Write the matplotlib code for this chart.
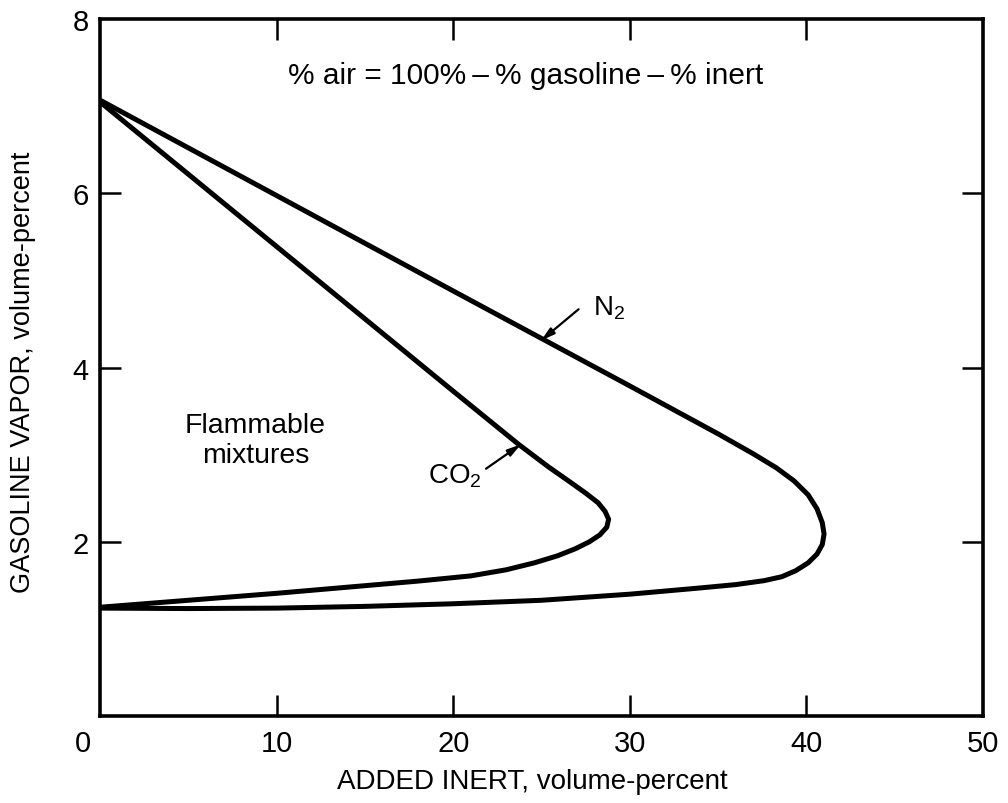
import matplotlib
matplotlib.use("Agg")
import matplotlib.pyplot as plt
from matplotlib.transforms import ScaledTranslation

plt.rcParams['font.family'] = ['Liberation Sans', 'DejaVu Sans']
plt.rcParams['mathtext.fontset'] = 'custom'
plt.rcParams['mathtext.rm'] = 'Liberation Sans'
plt.rcParams['mathtext.it'] = 'Liberation Sans'

# ---- data ----
n2_x = [0, 20, 30, 35, 37, 38.3, 39.3, 40.1, 40.6, 40.9, 41.0, 40.9, 40.6, 40.1, 39.4, 38.6,
        37.6, 36, 33.9, 30, 25, 20, 15, 10, 5, 0]
n2_y = [7.07, 4.88, 3.79, 3.24, 3.01, 2.85, 2.70, 2.54, 2.38, 2.22, 2.09, 1.97, 1.86, 1.76, 1.67, 1.60,
        1.555, 1.51, 1.47, 1.40, 1.33, 1.29, 1.26, 1.24, 1.235, 1.24]

co2_x = [0, 20, 23.7, 25.4, 26.6, 27.5, 28.2, 28.6, 28.8, 28.7, 28.3, 27.7, 26.9, 25.9, 24.6,
         23, 21, 18, 14, 10, 5, 0]
co2_y = [7.05, 3.73, 3.12, 2.86, 2.69, 2.56, 2.45, 2.35, 2.26, 2.17, 2.08, 2.00, 1.92, 1.84, 1.76,
         1.68, 1.61, 1.55, 1.48, 1.41, 1.33, 1.25]

x_ticks = [0, 10, 20, 30, 40, 50]
x_tick_labels = ['0', '10', '20', '30', '40', '50']
y_ticks = [2, 4, 6, 8]
y_tick_labels = ['2', '4', '6', '8']

fig = plt.figure(figsize=(10.08, 8.04), dpi=100)
ax = fig.add_axes([0.0992, 0.108, 0.876, 0.867])

lw = 3.6
ax.plot(n2_x, n2_y, color='black', lw=lw, solid_joinstyle='round', solid_capstyle='round')
ax.plot(co2_x, co2_y, color='black', lw=lw, solid_joinstyle='round', solid_capstyle='round')

ax.set_xlim(0, 50)
ax.set_ylim(0, 8)

ax.set_xticks(x_ticks)
ax.set_xticklabels(x_tick_labels)
ax.set_yticks(y_ticks)
ax.set_yticklabels(y_tick_labels)

ax.tick_params(axis='both', direction='in', length=15, width=1.8, labelsize=21,
               top=True, right=True, pad=8)
ax.tick_params(axis='x', pad=9)
for t in ax.xaxis.get_major_ticks():
    if t.get_loc() in (0, 50):
        t.tick1line.set_visible(False)
        t.tick2line.set_visible(False)
for t in ax.yaxis.get_major_ticks():
    if t.get_loc() in (0, 8):
        t.tick1line.set_visible(False)
        t.tick2line.set_visible(False)

lbl0 = ax.get_xticklabels()[0]
lbl0.set_transform(lbl0.get_transform() + ScaledTranslation(-0.17, 0, fig.dpi_scale_trans))

for s in ax.spines.values():
    s.set_linewidth(2.6)

ax.set_xlabel('ADDED INERT, volume-percent', fontsize=20)
ax.set_ylabel('GASOLINE VAPOR, volume-percent', fontsize=19.5)
ax.xaxis.set_label_coords(0.49, -0.074)
ax.yaxis.set_label_coords(-0.073, 0.495)

ax.text(24.1, 7.36, '% air = 100%\u2009\u2013\u2009% gasoline\u2009\u2013\u2009% inert',
        ha='center', va='center', fontsize=21.5, family=['Liberation Sans', 'DejaVu Sans'])
ax.text(8.8, 3.17, 'Flammable\nmixtures', ha='center', va='center', fontsize=20.5,
        linespacing=1.2)

arrow_style = '-|>,head_length=0.8,head_width=0.22'
ax.annotate('', xy=(24.97, 4.31), xytext=(27.1, 4.67),
            arrowprops=dict(arrowstyle=arrow_style, color='black', lw=1.6,
                            shrinkA=0, shrinkB=0))
ax.text(27.9, 4.69, 'N$_2$', ha='left', va='center', fontsize=20)

ax.annotate('', xy=(23.84, 3.12), xytext=(21.86, 2.84),
            arrowprops=dict(arrowstyle=arrow_style, color='black', lw=1.6,
                            shrinkA=0, shrinkB=0))
ax.text(21.6, 2.76, 'CO$_2$', ha='right', va='center', fontsize=20)

fig.savefig('out.png', dpi=100)
